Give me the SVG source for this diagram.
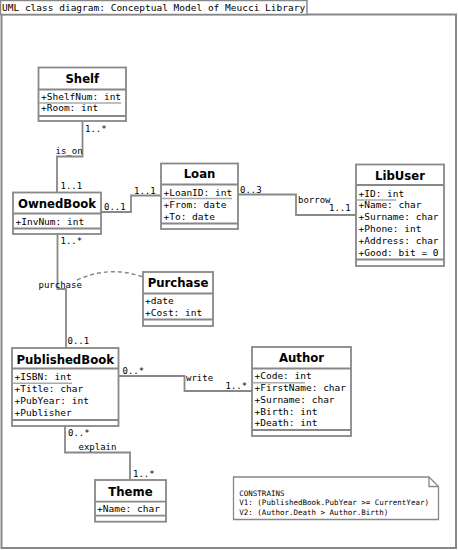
<svg xmlns="http://www.w3.org/2000/svg" width="458" height="550" viewBox="0 0 458 550">
<style>
.box{fill:#fff;stroke:#888;stroke-width:1.8}
.div{stroke:#888;stroke-width:1.8}
.ul{stroke:#aaa;stroke-width:1.5}
.ttl{font-family:"DejaVu Sans",sans-serif;font-weight:bold;font-size:11.7px;text-anchor:middle;fill:#000}
.att{font-family:"DejaVu Sans Mono",monospace;font-size:9.5px;fill:#000}
.lbl{font-family:"DejaVu Sans Mono",monospace;font-size:9px;fill:#000}
.note{font-family:"DejaVu Sans Mono",monospace;font-size:7.5px;fill:#000}
.con{fill:none;stroke:#888;stroke-width:1.8}
</style>
<rect x="0" y="0" width="458" height="550" fill="#fff"/>
<g id="frame">
<rect x="1.5" y="14.5" width="454.5" height="533.5" fill="none" stroke="#888" stroke-width="2"/>
<rect x="0.5" y="0.5" width="306.5" height="14" fill="#fff" stroke="#888" stroke-width="1.5"/>
<text class="att" x="2" y="11">UML class diagram: Conceptual Model of Meucci Library</text>
</g>
<g id="connectors">
<path class="con" d="M82.5,121 V156.5 H57 V192"/>
<path class="con" d="M101,212 H131 V195.5 H161"/>
<path class="con" d="M238,194.5 H296 V215 H356"/>
<path class="con" d="M57.5,234 V289 H66 V348"/>
<path class="con" d="M118,376 H184.5 V391 H252"/>
<path class="con" d="M65,426 V452.5 H130 V480"/>
<path d="M77,280 Q110,265 143,277" fill="none" stroke="#888" stroke-width="1.5" stroke-dasharray="4,3"/>
<text class="lbl" x="85" y="131.5">1..*</text>
<text class="lbl" x="55.5" y="154">is_on</text>
<text class="lbl" x="60.5" y="188.5">1..1</text>
<text class="lbl" x="134" y="194">1..1</text>
<text class="lbl" x="104" y="209.5">0..1</text>
<text class="lbl" x="240" y="192.5">0..3</text>
<text class="lbl" x="298" y="203">borrow</text>
<text class="lbl" x="329" y="211">1..1</text>
<text class="lbl" x="60.5" y="243.5">1..*</text>
<text class="lbl" x="38.5" y="288">purchase</text>
<text class="lbl" x="67.5" y="344">0..1</text>
<text class="lbl" x="122.5" y="373.5">0..*</text>
<text class="lbl" x="186" y="381">write</text>
<text class="lbl" x="225.5" y="388.5">1..*</text>
<text class="lbl" x="68" y="435.5">0..*</text>
<text class="lbl" x="78.5" y="449.5">explain</text>
<text class="lbl" x="133" y="476.5">1..*</text>
</g>
<g id="Shelf">
<rect class="box" x="38.5" y="67.5" width="87.5" height="53.5"/>
<line class="div" x1="38.5" y1="89.5" x2="126" y2="89.5"/>
<line class="div" x1="38.5" y1="116" x2="126" y2="116"/>
<line class="ul" x1="39" y1="103" x2="121" y2="103"/>
<text class="ttl" x="82.3" y="83">Shelf</text>
<text class="att" x="41" y="99.5">+ShelfNum: int</text>
<text class="att" x="41" y="111">+Room: int</text>
</g>
<g id="OwnedBook">
<rect class="box" x="13" y="192.5" width="88" height="41.5"/>
<line class="div" x1="13" y1="213.5" x2="101" y2="213.5"/>
<line class="div" x1="13" y1="228.5" x2="101" y2="228.5"/>
<text class="ttl" x="57" y="208">OwnedBook</text>
<text class="att" x="15.5" y="224.5">+InvNum: int</text>
</g>
<g id="Loan">
<rect class="box" x="161" y="163.5" width="77" height="65.5"/>
<line class="div" x1="161" y1="184.5" x2="238" y2="184.5"/>
<line class="div" x1="161" y1="223.5" x2="238" y2="223.5"/>
<line class="ul" x1="161.5" y1="198.5" x2="232" y2="198.5"/>
<text class="ttl" x="199.5" y="178">Loan</text>
<text class="att" x="163.5" y="196">+LoanID: int</text>
<text class="att" x="163.5" y="208">+From: date</text>
<text class="att" x="163.5" y="220">+To: date</text>
</g>
<g id="LibUser">
<rect class="box" x="356" y="164.5" width="88" height="101.5"/>
<line class="div" x1="356" y1="185" x2="444" y2="185"/>
<line class="div" x1="356" y1="259.5" x2="444" y2="259.5"/>
<line class="ul" x1="356.5" y1="200" x2="396" y2="200"/>
<text class="ttl" x="400" y="179.5">LibUser</text>
<text class="att" x="358.5" y="196.5">+ID: int</text>
<text class="att" x="358.5" y="208.3">+Name: char</text>
<text class="att" x="358.5" y="220.1">+Surname: char</text>
<text class="att" x="358.5" y="231.9">+Phone: int</text>
<text class="att" x="358.5" y="243.7">+Address: char</text>
<text class="att" x="358.5" y="255.5">+Good: bit = 0</text>
</g>
<g id="Purchase">
<rect class="box" x="143" y="272" width="70" height="54"/>
<line class="div" x1="143" y1="293.5" x2="213" y2="293.5"/>
<line class="div" x1="143" y1="319.5" x2="213" y2="319.5"/>
<text class="ttl" x="178" y="287">Purchase</text>
<text class="att" x="145" y="304">+date</text>
<text class="att" x="145" y="315.5">+Cost: int</text>
</g>
<g id="PublishedBook">
<rect class="box" x="12" y="348" width="106.5" height="78"/>
<line class="div" x1="12" y1="368.5" x2="118.5" y2="368.5"/>
<line class="div" x1="12" y1="420" x2="118.5" y2="420"/>
<line class="ul" x1="12.5" y1="383.3" x2="72" y2="383.3"/>
<text class="ttl" x="65.2" y="363.5">PublishedBook</text>
<text class="att" x="14.5" y="380">+ISBN: int</text>
<text class="att" x="14.5" y="392">+Title: char</text>
<text class="att" x="14.5" y="404">+PubYear: int</text>
<text class="att" x="14.5" y="415.5">+Publisher</text>
</g>
<g id="Author">
<rect class="box" x="252" y="347" width="99" height="89"/>
<line class="div" x1="252" y1="368.5" x2="351" y2="368.5"/>
<line class="div" x1="252" y1="430" x2="351" y2="430"/>
<line class="ul" x1="252.5" y1="382.7" x2="305" y2="382.7"/>
<text class="ttl" x="301.5" y="361.5">Author</text>
<text class="att" x="254.5" y="378.5">+Code: int</text>
<text class="att" x="254.5" y="390.5">+FirstName: char</text>
<text class="att" x="254.5" y="402.5">+Surname: char</text>
<text class="att" x="254.5" y="414.5">+Birth: int</text>
<text class="att" x="254.5" y="426">+Death: int</text>
</g>
<g id="Theme">
<rect class="box" x="95" y="480" width="71" height="41.7"/>
<line class="div" x1="95" y1="501.7" x2="166" y2="501.7"/>
<line class="div" x1="95" y1="515.7" x2="166" y2="515.7"/>
<text class="ttl" x="130.5" y="496">Theme</text>
<text class="att" x="97" y="512">+Name: char</text>
</g>
<g id="Constraints">
<path d="M233.5,477 H429 L438.5,486.5 V519.5 H233.5 Z" fill="#fff" stroke="#888" stroke-width="1.3"/>
<path d="M429,477 V486.5 H438.5" fill="none" stroke="#888" stroke-width="1.3"/>
<text class="note" x="239.3" y="495.5">CONSTRAINS</text>
<text class="note" x="239.3" y="505">V1: (PublishedBook.PubYear &gt;= CurrentYear)</text>
<text class="note" x="239.3" y="514.5">V2: (Author.Death &gt; Author.Birth)</text>
</g>
</svg>
